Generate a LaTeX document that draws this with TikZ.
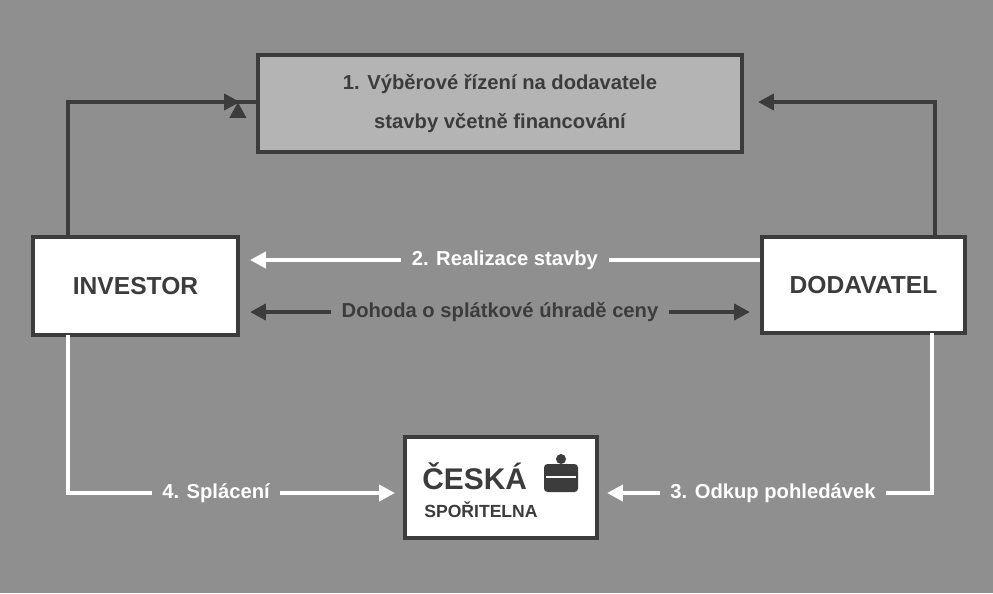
\documentclass[tikz,border=0pt]{standalone}
\usepackage{fontspec}
\setmainfont{Liberation Sans}
\usetikzlibrary{arrows.meta}
\definecolor{bg}{RGB}{143,143,143}
\definecolor{topfill}{RGB}{180,180,180}
\definecolor{dk}{RGB}{60,60,60}
\begin{document}
\begin{tikzpicture}[x=0.02cm,y=-0.02cm,
  box/.style={draw=dk,line width=2.4pt,fill=white,font=\bfseries\fontsize{14}{16}\selectfont,text=dk,inner sep=0pt},
  wline/.style={draw=white,line width=2.4pt},
  dline/.style={draw=dk,line width=2.4pt},
  tip/.style={-{Triangle[length=9pt,width=9pt]}},
  lbl/.style={font=\bfseries\fontsize{11.5}{14}\selectfont,fill=bg,inner xsep=6pt,inner ysep=2pt}]
\fill[bg] (0,0) rectangle (993,593);
\useasboundingbox (0,0) rectangle (993,593);
\node[box,fill=topfill,minimum width=484*0.02cm,minimum height=97*0.02cm,align=center,font=\bfseries\fontsize{11.5}{22}\selectfont] (top) at (500,103.5) {1. Výběrové řízení na dodavatele\\stavby včetně financování};
\node[box,minimum width=205*0.02cm,minimum height=98*0.02cm] (inv) at (135.5,286) {INVESTOR};
\node[box,minimum width=203*0.02cm,minimum height=96*0.02cm] (dod) at (863.5,285) {DODAVATEL};
\node[box,minimum width=192*0.02cm,minimum height=101*0.02cm] (cs) at (501,487.5) {};
\node[anchor=west,text=dk,font=\bfseries\fontsize{17}{17}\selectfont,inner sep=0pt] (cs1) at (422,476) {ČESKÁ};
\node[anchor=west,text=dk,font=\bfseries\fontsize{10}{10}\selectfont,inner sep=0pt] (cs2) at (424,510) {SPOŘITELNA};
\fill[dk,rounded corners=2pt] (544,464) rectangle (578,492);
\fill[dk] (561,459) circle (5);
\draw[white,line width=1.2pt] (546,477) -- (576,477);
% arrows top
\coordinate (a1) at (68,102);
\coordinate (a2) at (935,102);
\draw[dline,tip] (inv.north -| 68,0) -- (a1) -- (top.west |- a1) ++(-18,0);
\draw[dline,tip] (68,237) -- (68,102) -- (240,102);
\draw[dline,tip] (935,237) -- (935,102) -- (758,102);
% realizace
\draw[wline,tip] (dod.west |- 0,260) -- (250,260) node[midway,lbl,text=white] (r) {2. Realizace stavby};
\draw[dline,{Triangle[length=9pt,width=9pt]}-{Triangle[length=9pt,width=9pt]}] (250,312) -- (750,312) node[midway,lbl,text=dk] (d) {Dohoda o splátkové úhradě ceny};
% bottom
\draw[wline,tip] (68,335) -- (68,493) -- (395,493);
\node[lbl,text=white] (s) at (216,493) {4. Splácení};
\draw[wline,tip] (932,333) -- (932,493) -- (607,493);
\node[lbl,text=white] (o) at (773,493) {3. Odkup pohledávek};
\end{tikzpicture}
\end{document}
